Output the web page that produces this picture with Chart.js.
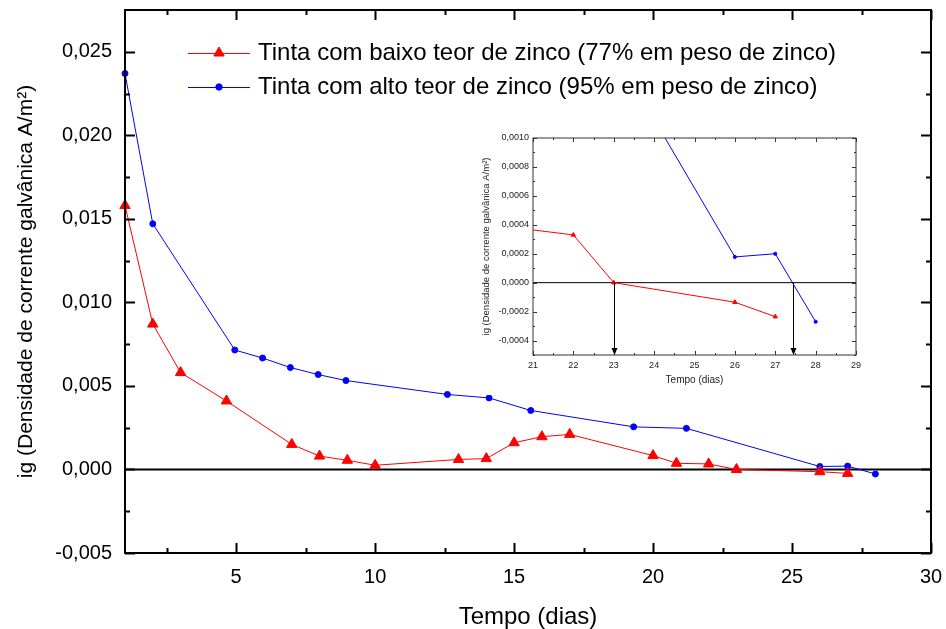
<!DOCTYPE html>
<html><head><meta charset="utf-8">
<script src="https://cdn.jsdelivr.net/npm/chart.js@4.4.0/dist/chart.umd.min.js"></script>
<style>
html,body{margin:0;padding:0;background:#fff;}
#wrap{position:relative;width:946px;height:629px;overflow:hidden;}
#main{position:absolute;left:0;top:0;}
#inset{position:absolute;left:470px;top:125px;background:#fff;}
</style></head><body>
<div id="wrap"><canvas id="main" width="946" height="629"></canvas><canvas id="inset" width="400" height="270"></canvas></div>
<script>
// ---------- data ----------
const seriesLabels = [
  'Tinta com baixo teor de zinco (77% em peso de zinco)',
  'Tinta com alto teor de zinco (95% em peso de zinco)'
];
const daysLow = [1, 2, 3, 4.65, 7, 8, 9, 10, 13, 14, 15, 16, 17, 20, 20.84, 22, 23, 26, 27];
const igLow = [0.0158, 0.0087, 0.0058, 0.0041, 0.0015, 0.0008, 0.00055, 0.00025, 0.0006, 0.00065, 0.0016, 0.00196, 0.0021, 0.00083, 0.00037, 0.00033, 0.0, -0.000135, -0.000235];
const daysHigh = [1, 2, 4.95, 5.95, 6.95, 7.95, 8.95, 12.6, 14.1, 15.6, 19.3, 21.2, 26, 27, 28];
const igHigh = [0.0237, 0.0147, 0.00715, 0.00667, 0.0061, 0.00568, 0.00532, 0.00449, 0.00428, 0.00353, 0.00255, 0.00246, 0.000178, 0.0002, -0.00027];

const xTicks = [5, 10, 15, 20, 25, 30];
const xMinorTicks = [2.5, 7.5, 12.5, 17.5, 22.5, 27.5];
const yTicks = [-0.005, 0, 0.005, 0.01, 0.015, 0.02, 0.025];
const yMinorTicks = [-0.0025, 0.0025, 0.0075, 0.0125, 0.0175, 0.0225];

const insetXTicks = [21, 22, 23, 24, 25, 26, 27, 28, 29];
const insetXMinorTicks = [21.5, 22.5, 23.5, 24.5, 25.5, 26.5, 27.5, 28.5];
const insetYTicks = [-0.0004, -0.0002, 0, 0.0002, 0.0004, 0.0006, 0.0008, 0.001];
const insetYMinorTicks = [-0.0005, -0.0003, -0.0001, 0.0001, 0.0003, 0.0005, 0.0007, 0.0009];
const arrowDays = [23, 27.43];

const xTitle = 'Tempo (dias)';
const yTitle = 'ig (Densidade de corrente galvânica A/m²)';

// ---------- helpers ----------
const FONT = '"Liberation Sans", Arial, Helvetica, sans-serif';
Chart.defaults.font.family = FONT;
Chart.defaults.color = '#000';

const toXY = (xs, ys) => xs.map((x, i) => ({x: x, y: ys[i]}));
const comma = (v, d) => v.toFixed(d).replace('.', ',');
const noPad = s => { s.paddingTop = 0; s.paddingBottom = 0; s.paddingLeft = 0; s.paddingRight = 0; };

function framePlugin(o) {
  return {
    id: 'frame_' + o.name,
    beforeDatasetsDraw(chart) {
      const {ctx, chartArea: a, scales: {x, y}} = chart;
      const y0 = y.getPixelForValue(0);
      ctx.save();
      ctx.strokeStyle = '#000';
      ctx.lineWidth = o.zeroWidth;
      ctx.beginPath(); ctx.moveTo(a.left, y0); ctx.lineTo(a.right, y0); ctx.stroke();
      ctx.restore();
    },
    afterDatasetsDraw(chart) {
      const {ctx, chartArea: a, scales: {x, y}} = chart;
      ctx.save();
      ctx.strokeStyle = o.frameColor;
      ctx.lineWidth = o.frameWidth;
      ctx.strokeRect(a.left, a.top, a.right - a.left, a.bottom - a.top);
      ctx.lineWidth = o.tickWidth;
      ctx.beginPath();
      const xt = (vals, len) => vals.forEach(v => {
        const p = Math.round(x.getPixelForValue(v)) + 0.5;
        ctx.moveTo(p, a.bottom); ctx.lineTo(p, a.bottom - len);
        ctx.moveTo(p, a.top); ctx.lineTo(p, a.top + len);
      });
      const yt = (vals, len) => vals.forEach(v => {
        const p = Math.round(y.getPixelForValue(v)) + 0.5;
        ctx.moveTo(a.left, p); ctx.lineTo(a.left + len, p);
        ctx.moveTo(a.right, p); ctx.lineTo(a.right - len, p);
      });
      xt(o.xMajor, o.majorLen); xt(o.xMinor, o.minorLen);
      yt(o.yMajor, o.majorLen); yt(o.yMinor, o.minorLen);
      ctx.stroke();
      if (o.arrows) {
        const y0 = y.getPixelForValue(0);
        ctx.strokeStyle = '#000'; ctx.fillStyle = '#000'; ctx.lineWidth = 1;
        o.arrows.forEach(d => {
          const p = Math.round(x.getPixelForValue(d)) + 0.5;
          ctx.beginPath(); ctx.moveTo(p, y0); ctx.lineTo(p, a.bottom - 6); ctx.stroke();
          ctx.beginPath(); ctx.moveTo(p - 3, a.bottom - 7); ctx.lineTo(p + 3, a.bottom - 7); ctx.lineTo(p, a.bottom); ctx.closePath(); ctx.fill();
        });
      }
      ctx.restore();
    }
  };
}

const legendPlugin = {
  id: 'customLegend',
  afterDraw(chart) {
    const ctx = chart.ctx;
    const rows = [53, 87];
    ctx.save();
    chart.data.datasets.forEach((ds, i) => {
      const yy = rows[i];
      ctx.strokeStyle = ds.borderColor; ctx.lineWidth = 1;
      ctx.beginPath(); ctx.moveTo(188, yy + 0.5); ctx.lineTo(250, yy + 0.5); ctx.stroke();
      ctx.fillStyle = ds.backgroundColor; ctx.strokeStyle = ds.borderColor;
      Chart.helpers.drawPoint(ctx, {pointStyle: ds.pointStyle, radius: ds.pointStyle === 'triangle' ? 6 : 3.2, rotation: 0, borderWidth: 1}, 219, yy);
      ctx.fillStyle = '#000';
      ctx.font = '24px ' + FONT;
      ctx.textBaseline = 'middle'; ctx.textAlign = 'left';
      ctx.fillText(ds.label, 258, yy);
    });
    ctx.restore();
  }
};

function makeDatasets(rLow, rHigh, clip) {
  return [
    {label: seriesLabels[0], data: toXY(daysLow, igLow), borderColor: '#ff0000', backgroundColor: '#ff0000',
     borderWidth: 1, pointStyle: 'triangle', pointRadius: rLow, pointBorderWidth: 1, clip: clip},
    {label: seriesLabels[1], data: toXY(daysHigh, igHigh), borderColor: '#0000ff', backgroundColor: '#0000ff',
     borderWidth: 1, pointStyle: 'circle', pointRadius: rHigh, pointBorderWidth: 1, clip: clip}
  ];
}

// ---------- main chart ----------
new Chart(document.getElementById('main'), {
  type: 'line',
  data: {datasets: makeDatasets(6, 3, false)},
  options: {
    responsive: false, animation: false, devicePixelRatio: 1,
    layout: {padding: {top: 10, right: 15, left: 0, bottom: 0}},
    plugins: {legend: {display: false}, tooltip: {enabled: false}},
    scales: {
      x: {
        type: 'linear', min: 1, max: 30,
        afterBuildTicks: s => { s.ticks = xTicks.map(v => ({value: v})); },
        afterFit: s => { s.height = 76; noPad(s); },
        grid: {display: false, drawTicks: false}, border: {display: false},
        ticks: {font: {size: 20}, color: '#000', padding: 12, maxRotation: 0, autoSkip: false},
        title: {display: true, text: xTitle, font: {size: 24, lineHeight: 1}, color: '#000', padding: {top: 0, bottom: 0}}
      },
      y: {
        type: 'linear', min: -0.005, max: 0.0275,
        afterBuildTicks: s => { s.ticks = yTicks.map(v => ({value: v})); },
        afterFit: s => { s.width = 125; noPad(s); },
        grid: {display: false, drawTicks: false}, border: {display: false},
        ticks: {font: {size: 20}, color: '#000', padding: 13, autoSkip: false, callback: v => comma(v, 3)},
        title: {display: true, text: yTitle, font: {size: 21, lineHeight: 1}, color: '#000', padding: {top: 16, bottom: 0}}
      }
    }
  },
  plugins: [framePlugin({name: 'main', zeroWidth: 2, frameWidth: 2, frameColor: '#000', tickWidth: 2, majorLen: 10, minorLen: 5,
    xMajor: xTicks, xMinor: xMinorTicks, yMajor: yTicks, yMinor: yMinorTicks}), legendPlugin]
});

// ---------- inset chart ----------
new Chart(document.getElementById('inset'), {
  type: 'line',
  data: {datasets: makeDatasets(2.5, 1.6, true)},
  options: {
    responsive: false, animation: false, devicePixelRatio: 1,
    layout: {padding: {top: 13, right: 14, left: 0, bottom: 0}},
    plugins: {legend: {display: false}, tooltip: {enabled: false}},
    scales: {
      x: {
        type: 'linear', min: 21, max: 29,
        afterBuildTicks: s => { s.ticks = insetXTicks.map(v => ({value: v})); },
        afterFit: s => { s.height = 40; noPad(s); },
        grid: {display: false, drawTicks: false}, border: {display: false},
        ticks: {font: {size: 9}, color: '#222', padding: 5, maxRotation: 0, autoSkip: false},
        title: {display: true, text: xTitle, font: {size: 10, lineHeight: 1}, color: '#222', padding: {top: 0, bottom: 10}}
      },
      y: {
        type: 'linear', min: -0.0005, max: 0.001,
        afterBuildTicks: s => { s.ticks = insetYTicks.map(v => ({value: v})); },
        afterFit: s => { s.width = 63; noPad(s); },
        grid: {display: false, drawTicks: false}, border: {display: false},
        ticks: {font: {size: 9}, color: '#222', padding: 4, autoSkip: false, callback: v => comma(v, 4)},
        title: {display: true, text: yTitle, font: {size: 9.5, lineHeight: 1}, color: '#222', padding: {top: 12, bottom: 0}}
      }
    }
  },
  plugins: [framePlugin({name: 'inset', zeroWidth: 1, frameWidth: 1, frameColor: '#333', tickWidth: 1, majorLen: 4, minorLen: 2,
    xMajor: insetXTicks, xMinor: insetXMinorTicks, yMajor: insetYTicks, yMinor: insetYMinorTicks, arrows: arrowDays})]
});
</script>
</body></html>
